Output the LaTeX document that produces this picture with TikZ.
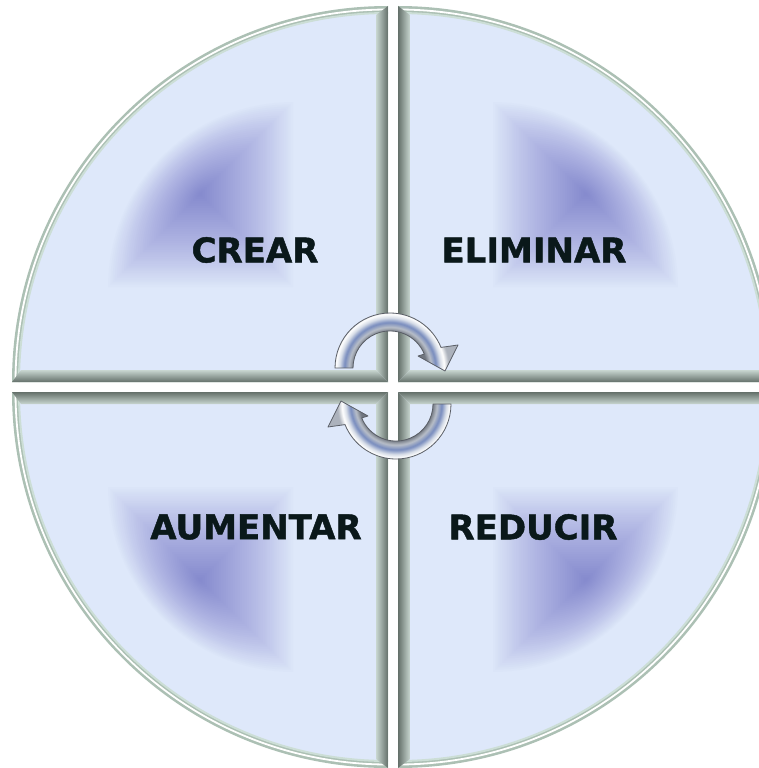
\documentclass[tikz,border=0pt]{standalone}
\usepackage{fontspec}
\setmainfont{DejaVu Sans}
\newfontfamily\lblfont{DejaVu Sans}[BoldFeatures={FakeBold=1.3}]
\usepackage{xcolor}
\usepackage{tikz}
\usetikzlibrary{positioning}
\definecolor{face}{RGB}{222,232,250}
\definecolor{glowc}{RGB}{128,132,204}
\definecolor{rim}{RGB}{172,192,180}
\definecolor{rimhi}{RGB}{204,222,214}
\definecolor{bevdark}{RGB}{100,112,106}
\definecolor{bevlight}{RGB}{200,214,208}
\definecolor{ink}{RGB}{10,24,26}
\definecolor{arrdark}{RGB}{112,118,128}
\definecolor{arrgray}{RGB}{184,190,200}
\definecolor{arrblue}{RGB}{120,140,190}
\definecolor{arrlight}{RGB}{216,222,232}
\definecolor{arredge}{RGB}{172,178,188}
\pgfdeclareradialshading{silver}{\pgfpoint{0bp}{0bp}}{color(0bp)=(arrdark);color(13bp)=(arrdark);color(14.6bp)=(arrgray);color(16.3bp)=(arrblue);color(18bp)=(arrlight);color(19.3bp)=(white);color(21bp)=(arredge);color(25bp)=(arredge);color(50bp)=(arredge)}

\begin{document}
\begin{tikzpicture}[x=1pt,y=-1pt]
\tikzstyle{lbl}=[text=ink,font=\lblfont\bfseries\fontsize{34}{38}\selectfont,inner sep=0pt]
\tikzstyle{arrline}=[draw=arrdark!80!black,line width=0.8pt,line join=round]
\tikzstyle{bev}=[line width=0pt]
\useasboundingbox (0,0) rectangle (759,768);
\clip (0,0) rectangle (759,768);
\fill[white] (0,0) rectangle (759,768);
\foreach \cx/\cy/\sx/\sy in {388/382/-1/-1, 398/382/1/-1, 388/392/-1/1, 398/392/1/1}{
\begin{scope}[shift={(\cx,\cy)},xscale=\sx,yscale=\sy]
\fill[rim] (0,0) -- (376,0) arc[start angle=0,end angle=90,radius=376] -- cycle;
\begin{scope}
\clip (0,0) circle[radius=369];
\fill[face] (0,0) rectangle (376,376);
\end{scope}
\draw[white,line width=1.8pt] (0:372.5) arc[start angle=0,end angle=90,radius=372.5];
\draw[rimhi,line width=2pt] (0:369) arc[start angle=0,end angle=90,radius=369];
\foreach \k in {0,...,39}{
\pgfmathsetmacro\s{1-\k/40}
\pgfmathsetmacro\a{0.9/(40-0.9*\k)}
\fill[glowc,fill opacity=\a,scale around={\s:(188,188)}] (95,95) -- (280,95) arc[start angle=0,end angle=90,radius=185] -- cycle;
}
\end{scope}}
% bevels along the gaps
\shade[bev,left color=bevlight,right color=bevdark] (388,382) -- (376,370) -- (376,15) -- (388,6) -- cycle;
\shade[bev,top color=bevlight,bottom color=bevdark] (388,382) -- (12,382) -- (21,370) -- (376,370) -- cycle;
\shade[bev,left color=bevdark,right color=bevlight] (398,382) -- (410,370) -- (410,15) -- (398,6) -- cycle;
\shade[bev,top color=bevlight,bottom color=bevdark] (398,382) -- (774,382) -- (765,370) -- (410,370) -- cycle;
\shade[bev,left color=bevlight,right color=bevdark] (388,392) -- (376,404) -- (376,759) -- (388,768) -- cycle;
\shade[bev,top color=bevdark,bottom color=bevlight] (388,392) -- (12,392) -- (21,404) -- (376,404) -- cycle;
\shade[bev,left color=bevdark,right color=bevlight] (398,392) -- (410,404) -- (410,759) -- (398,768) -- cycle;
\shade[bev,top color=bevdark,bottom color=bevlight] (398,392) -- (774,392) -- (765,404) -- (410,404) -- cycle;
\node[lbl] (crear) at (255,250) {CREAR};
\node[lbl] (eliminar) at (534,250) {ELIMINAR};
\node[lbl] (aumentar) at (256,527) {AUMENTAR};
\node[lbl] (reducir) at (533,527) {REDUCIR};
\def\turnpath{(390,368) ++(180:55) arc[start angle=180,end angle=338,radius=55] -- (458,345) -- (445,371) -- (418,356) -- (424.3,354.1) arc[start angle=338,end angle=180,radius=37] -- cycle}
\foreach \r in {0,180}{
\begin{scope}[rotate around={\r:(393,386)}]
\begin{scope}
\clip \turnpath;
\shade[shading=silver] (390,368) circle[radius=70];
\end{scope}
\draw[arrline] \turnpath;
\end{scope}}
\end{tikzpicture}
\end{document}
